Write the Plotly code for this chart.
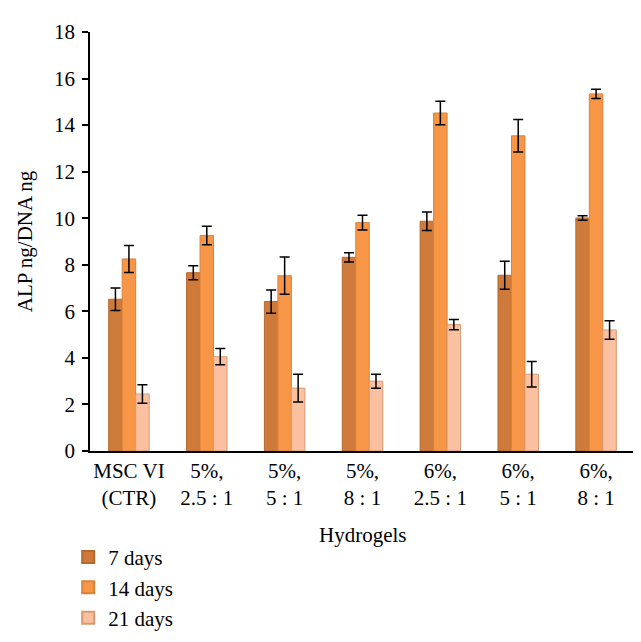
import plotly.graph_objects as go

categories = ["MSC VI<br>(CTR)", "5%,<br>2.5 : 1", "5%,<br>5 : 1", "5%,<br>8 : 1",
              "6%,<br>2.5 : 1", "6%,<br>5 : 1", "6%,<br>8 : 1"]
days7 = [6.52, 7.66, 6.42, 8.32, 9.87, 7.55, 10.01]
days7_err = [0.48, 0.30, 0.50, 0.20, 0.40, 0.60, 0.10]
days14 = [8.25, 9.26, 7.53, 9.81, 14.52, 13.54, 15.34]
days14_err = [0.58, 0.40, 0.80, 0.32, 0.50, 0.70, 0.20]
days21 = [2.45, 4.05, 2.70, 3.00, 5.43, 3.30, 5.20]
days21_err = [0.40, 0.35, 0.60, 0.30, 0.22, 0.55, 0.40]
series_names = ["7 days", "14 days", "21 days"]
y_ticks = [0, 2, 4, 6, 8, 10, 12, 14, 16, 18]

FONT = "Liberation Serif, serif"
FS = 21
fills = ["#CD7A3A", "#F79646", "#FAC0A0"]
edges = ["#B86A2E", "#D9823C", "#D99A72"]

fig = go.Figure()
for name, vals, errs, fc, ec in zip(series_names, [days7, days14, days21],
                                     [days7_err, days14_err, days21_err], fills, edges):
    fig.add_trace(go.Bar(
        x=categories, y=vals, name=name,
        marker=dict(color=fc, line=dict(color=ec, width=1)),
        error_y=dict(type="data", array=errs, visible=True, color="black",
                     thickness=1.5, width=5),
    ))

fig.update_layout(
    width=641, height=642,
    margin=dict(l=82, r=14, t=22, b=187),
    paper_bgcolor="white", plot_bgcolor="white",
    barmode="group", bargap=0.48, bargroupgap=0,
    font=dict(family=FONT, size=FS, color="black"),
    showlegend=True,
    legend=dict(x=-0.04, y=-0.205, xanchor="left", yanchor="top",
                orientation="v", font=dict(family=FONT, size=FS),
                tracegroupgap=0, itemsizing="constant", bgcolor="rgba(0,0,0,0)"),
    xaxis=dict(showline=True, linecolor="black", linewidth=1.5, ticks="",
               showgrid=False, tickfont=dict(family=FONT, size=FS)),
    yaxis=dict(range=[0, 18], tickvals=y_ticks, showline=True, linecolor="black",
               linewidth=1.5, ticks="outside", ticklen=6, tickwidth=1.5,
               tickcolor="black", showgrid=False, zeroline=False,
               ticklabelstandoff=3,
               tickfont=dict(family=FONT, size=FS),
               title=dict(text="ALP ng/DNA ng", font=dict(family=FONT, size=FS),
                          standoff=16)),
    annotations=[dict(text="Hydrogels", x=0.5, y=-0.2, xref="paper", yref="paper",
                      xanchor="center", yanchor="middle", showarrow=False,
                      font=dict(family=FONT, size=FS))],
)

fig.write_html("out.html")
